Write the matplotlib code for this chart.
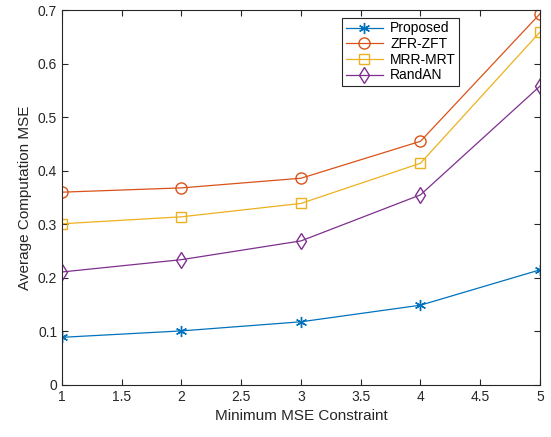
import numpy as np
import matplotlib
matplotlib.use('Agg')
import matplotlib.pyplot as plt

plt.rcParams['font.family'] = ['Liberation Sans', 'DejaVu Sans']

# Data
mse_constraint = [1, 2, 3, 4, 5]
proposed = [0.089, 0.101, 0.118, 0.149, 0.215]
zfr_zft = [0.360, 0.368, 0.386, 0.455, 0.693]
mrr_mrt = [0.301, 0.314, 0.339, 0.414, 0.659]
randan = [0.211, 0.234, 0.269, 0.355, 0.558]

fig = plt.figure(figsize=(5.51, 4.37), dpi=100)
ax = fig.add_axes([0.1125, 0.119, 0.8675, 0.858])

# MATLAB-style asterisk marker
asterisk = (6, 2, 0)
ax.plot(mse_constraint, proposed, color='#0072BD', marker=asterisk, markersize=8, lw=0.9, label='Proposed')
ax.plot(mse_constraint, zfr_zft, color='#D95319', marker='o', markersize=8, mfc='none', lw=0.9, label='ZFR-ZFT')
ax.plot(mse_constraint, mrr_mrt, color='#EDB120', marker='s', markersize=7, mfc='none', lw=0.9, label='MRR-MRT')
ax.plot(mse_constraint, randan, color='#7E2F8E', marker='d', markersize=8.5, mfc='none', lw=0.9, label='RandAN')

ax.set_xlim(1, 5)
ax.set_ylim(0, 0.7)
ax.set_xticks(np.arange(1, 5.01, 0.5))
ax.set_xticklabels(['1', '1.5', '2', '2.5', '3', '3.5', '4', '4.5', '5'])
ax.set_yticks(np.arange(0, 0.71, 0.1))
ax.set_yticklabels(['0', '0.1', '0.2', '0.3', '0.4', '0.5', '0.6', '0.7'])
ax.tick_params(direction='in', top=True, right=True, labelsize=10, colors='#262626', length=4)
for s in ax.spines.values():
    s.set_color('#262626')
    s.set_linewidth(0.8)

ax.set_xlabel('Minimum MSE Constraint', fontsize=11, color='#262626')
ax.set_ylabel('Average Computation MSE', fontsize=11, color='#262626')

leg = ax.legend(loc='upper left', bbox_to_anchor=(0.586, 0.979), borderaxespad=0, fontsize=10,
                fancybox=False, edgecolor='#262626', framealpha=1, handlelength=2.7,
                borderpad=0.25, labelspacing=0.12, handletextpad=0.5)
leg.get_frame().set_linewidth(0.8)

fig.savefig('out.png', dpi=100)
